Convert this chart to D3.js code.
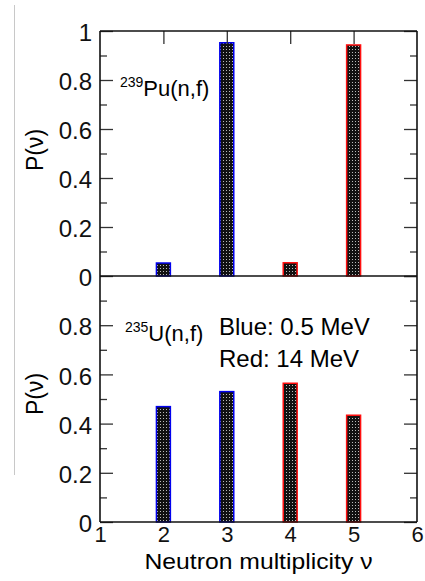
<!DOCTYPE html>
<html>
<head>
<meta charset="utf-8">
<script src="https://cdn.jsdelivr.net/npm/d3@7"></script>
<style>
  body { margin: 0; background: #fff; }
  svg { display: block; font-family: "Liberation Sans", Arial, Helvetica, sans-serif; }
  .axis path { display: none; }
  .axis line { stroke: #333; stroke-width: 1.3; }
  .axis text { font-size: 24px; fill: #111; font-family: "Liberation Sans", Arial, sans-serif; }
  .xaxis text { font-size: 22px; }
</style>
</head>
<body>
<script>
// neutron multiplicity of each bar, split by incident energy
var nuBlue = [2, 3];          // 0.5 MeV
var nuRed = [4, 5];           // 14 MeV
// P(nu) for 239Pu(n,f)
var puBlue = [0.053, 0.952];
var puRed = [0.054, 0.943];
// P(nu) for 235U(n,f)
var uBlue = [0.469, 0.530];
var uRed = [0.564, 0.434];
var xTickValues = [1, 2, 3, 4, 5, 6];
var yTickTop = [0, 0.2, 0.4, 0.6, 0.8, 1];
var yTickBottom = [0, 0.2, 0.4, 0.6, 0.8];
var yMinor = [0.1, 0.3, 0.5, 0.7, 0.9];

var width = 425, height = 581;
var left = 100, right = 417;
var panelTop = 31, panelMid = 276, panelBottom = 522;
var barHalf = 0.11;
var blue = "#0000ee", red = "#ff1010";

var svg = d3.select("body").append("svg")
    .attr("width", width)
    .attr("height", height);

var defs = svg.append("defs");
var pat = defs.append("pattern")
    .attr("id", "dots")
    .attr("patternUnits", "userSpaceOnUse")
    .attr("width", 3).attr("height", 3);
pat.append("rect").attr("width", 3).attr("height", 3).attr("fill", "#111");
pat.append("rect").attr("x", 1).attr("y", 1).attr("width", 1).attr("height", 1).attr("fill", "#bbb");

// stray grey rule at the left edge
svg.append("line")
    .attr("x1", 14.5).attr("x2", 14.5).attr("y1", 5).attr("y2", 475)
    .attr("stroke", "#c8c8c8").attr("stroke-width", 1);

var x = d3.scaleLinear().domain([1, 6]).range([left, right]);
var yTop = d3.scaleLinear().domain([0, 1]).range([panelMid, panelTop]);
var yBot = d3.scaleLinear().domain([0, 1]).range([panelBottom, panelMid]);

function drawPanel(y, labels, blueVals, redVals) {
  var g = svg.append("g");

  var bars = [];
  nuBlue.forEach(function(n, i) { bars.push({nu: n, p: blueVals[i], c: blue}); });
  nuRed.forEach(function(n, i) { bars.push({nu: n, p: redVals[i], c: red}); });

  g.selectAll("rect.bar").data(bars).enter().append("rect")
      .attr("class", "bar")
      .attr("x", function(d) { return x(d.nu - barHalf); })
      .attr("width", function(d) { return x(d.nu + barHalf) - x(d.nu - barHalf); })
      .attr("y", function(d) { return y(d.p); })
      .attr("height", function(d) { return y(0) - y(d.p); })
      .attr("fill", "url(#dots)")
      .attr("stroke", function(d) { return d.c; })
      .attr("stroke-width", 1.5);

  // left axis with labels, ticks pointing inward
  g.append("g").attr("class", "axis")
      .attr("transform", "translate(" + left + ",0)")
      .call(d3.axisLeft(y).tickValues(labels).tickSize(-13).tickPadding(8)
        .tickFormat(function(d) { return d === 0 || d === 1 ? d3.format("d")(d) : d3.format(".1f")(d); }))
      .selectAll("text").attr("dy", "0.4em");
  g.append("g").attr("class", "axis")
      .attr("transform", "translate(" + left + ",0)")
      .call(d3.axisLeft(y).tickValues(yMinor).tickSize(-7).tickFormat(""));
  g.append("g").attr("class", "axis")
      .attr("transform", "translate(" + right + ",0)")
      .call(d3.axisRight(y).tickValues(yTickTop).tickSize(-13).tickFormat(""));
  g.append("g").attr("class", "axis")
      .attr("transform", "translate(" + right + ",0)")
      .call(d3.axisRight(y).tickValues(yMinor).tickSize(-7).tickFormat(""));
  return g;
}

var gTop = drawPanel(yTop, yTickTop, puBlue, puRed);
var gBot = drawPanel(yBot, yTickBottom, uBlue, uRed);

// top x ticks (inward) on the upper frame
svg.append("g").attr("class", "axis")
    .attr("transform", "translate(0," + panelTop + ")")
    .call(d3.axisTop(x).tickValues([2, 3, 4, 5]).tickSize(-13).tickFormat(""));

// bottom x labels
svg.append("g").attr("class", "axis xaxis")
    .attr("transform", "translate(0," + panelBottom + ")")
    .call(d3.axisBottom(x).tickValues(xTickValues).tickSize(0).tickPadding(4).tickFormat(d3.format("d")));

// frames
var frame = svg.append("g").attr("fill", "none").attr("stroke", "#111").attr("stroke-width", 1.6);
frame.append("line").attr("x1", left).attr("x2", right).attr("y1", panelTop).attr("y2", panelTop);
frame.append("line").attr("x1", left).attr("x2", right).attr("y1", panelMid).attr("y2", panelMid);
frame.append("line").attr("x1", left).attr("x2", right).attr("y1", panelBottom).attr("y2", panelBottom);
frame.append("line").attr("x1", left).attr("x2", left).attr("y1", panelTop).attr("y2", panelBottom);
frame.append("line").attr("x1", right).attr("x2", right).attr("y1", panelTop).attr("y2", panelBottom);

// axis titles
function yTitle(cy) {
  svg.append("text")
      .attr("transform", "translate(35," + cy + ") rotate(-90)")
      .attr("text-anchor", "middle")
      .attr("dominant-baseline", "central")
      .style("font-size", "23px")
      .text("P(\u03bd)");
}
yTitle(150);
yTitle(394);

svg.append("text")
    .attr("x", (left + right) / 2).attr("y", 569)
    .attr("text-anchor", "middle")
    .attr("textLength", 228)
    .attr("lengthAdjust", "spacingAndGlyphs")
    .style("font-size", "22px")
    .text("Neutron multiplicity \u03bd");

// annotations
function isotope(xp, yp, mass, rest) {
  var t = svg.append("text").attr("x", xp).attr("y", yp).style("font-size", "22px");
  t.append("tspan").attr("dy", -9).style("font-size", "14px").text(mass);
  t.append("tspan").attr("dy", 9).text(rest);
}
isotope(120, 96, "239", "Pu(n,f)");
isotope(125, 341, "235", "U(n,f)");

svg.append("text").attr("x", 219).attr("y", 335).style("font-size", "24px").text("Blue: 0.5 MeV");
svg.append("text").attr("x", 219).attr("y", 367).style("font-size", "24px").text("Red: 14 MeV");
</script>
</body>
</html>
